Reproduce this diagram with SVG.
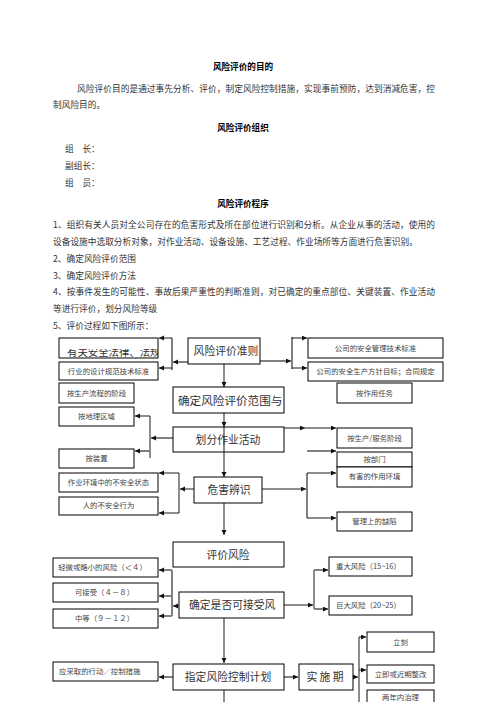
<svg xmlns="http://www.w3.org/2000/svg" width="496" height="702" viewBox="0 0 496 702">
<defs>
<style>
text{font-family:"Noto Sans CJK SC","Liberation Sans",sans-serif;}
.h{font-size:8.6px;font-weight:bold;fill:#000;text-anchor:middle;}
.p{font-size:8.7px;fill:#333;}
.b{fill:#fff;stroke:#000;stroke-width:1;}
.L{font-size:10.8px;fill:#333;text-anchor:middle;}
.s{font-size:7.4px;fill:#444;text-anchor:middle;}
.sl{font-size:7.4px;fill:#444;text-anchor:start;}
.k{stroke:#000;stroke-width:0.9;fill:none;}
.g{stroke:#808080;stroke-width:2;fill:none;}
.ka{stroke:#000;stroke-width:0.9;fill:none;marker-end:url(#ah);}
.ga{stroke:#808080;stroke-width:2;fill:none;marker-end:url(#ah);}
</style>
<marker id="ah" markerUnits="userSpaceOnUse" markerWidth="6" markerHeight="6" refX="5" refY="2.5" orient="auto"><path d="M0,0 L5,2.5 L0,5 z" fill="#111"/></marker>
<clipPath id="c1"><rect x="59" y="349" width="99" height="9"/></clipPath>
</defs>
<rect width="496" height="702" fill="#fff"/>

<g id="doc-text">
<text class="h" x="243" y="70">风险评价的目的</text>
<text class="p" x="77" y="92" textLength="358" lengthAdjust="spacing">风险评价目的是通过事先分析、评价，制定风险控制措施，实现事前预防，达到消减危害，控</text>
<text class="p" x="53" y="108">制风险目的。</text>
<text class="h" x="243" y="131">风险评价组织</text>
<text class="p" x="65" y="152">组　长：</text>
<text class="p" x="65" y="169">副组长：</text>
<text class="p" x="65" y="186">组　员：</text>
<text class="h" x="243" y="207">风险评价程序</text>
<text class="p" x="53" y="228" textLength="382" lengthAdjust="spacing">1、组织有关人员对全公司存在的危害形式及所在部位进行识别和分析。从企业从事的活动，使用的</text>
<text class="p" x="53" y="245">设备设施中选取分析对象，对作业活动、设备设施、工艺过程、作业场所等方面进行危害识别。</text>
<text class="p" x="53" y="262">2、确定风险评价范围</text>
<text class="p" x="53" y="279">3、确定风险评价方法</text>
<text class="p" x="53" y="295" textLength="382" lengthAdjust="spacing">4、按事件发生的可能性、事故后果严重性的判断准则，对已确定的重点部位、关键装置、作业活动</text>
<text class="p" x="53" y="312">等进行评价，划分风险等级</text>
<text class="p" x="53" y="329">5、评价过程如下图所示：</text>
</g>

<g id="connectors">
<line class="ga" x1="188" y1="362" x2="173" y2="362"/>
<line class="g" x1="172" y1="338" x2="172" y2="370"/>
<line class="ka" x1="172" y1="338" x2="159" y2="338"/>
<line class="ka" x1="172" y1="368" x2="159" y2="368"/>
<line class="ga" x1="260" y1="361" x2="291" y2="361"/>
<line class="g" x1="292" y1="337" x2="292" y2="369"/>
<line class="ka" x1="292" y1="338" x2="307" y2="338"/>
<line class="ka" x1="292" y1="368" x2="307" y2="368"/>
<line class="ka" x1="224" y1="364" x2="224" y2="387"/>
<line class="ka" x1="224" y1="413" x2="224" y2="427"/>
<line class="ka" x1="224" y1="503" x2="224" y2="535"/>
<line class="ka" x1="224" y1="618" x2="224" y2="663"/>
<line class="k" x1="224" y1="690" x2="224" y2="702"/>
<line class="ga" x1="173" y1="438" x2="151" y2="438"/>
<line class="k" x1="150" y1="416" x2="150" y2="458"/>
<line class="ka" x1="150" y1="416" x2="135" y2="416"/>
<line class="ga" x1="150" y1="451" x2="135" y2="451"/>
<line class="ka" x1="194" y1="489" x2="180" y2="489"/>
<line class="k" x1="179" y1="473" x2="179" y2="513"/>
<line class="ka" x1="179" y1="473" x2="159" y2="473"/>
<line class="ka" x1="179" y1="513" x2="159" y2="513"/>
<line class="ka" x1="284" y1="428" x2="305" y2="428"/>
<line class="ka" x1="305" y1="428" x2="336" y2="428"/>
<line class="ga" x1="307" y1="451" x2="336" y2="451"/>
<line class="ka" x1="262" y1="489" x2="306" y2="489"/>
<line class="g" x1="307" y1="473" x2="307" y2="518"/>
<line class="ka" x1="307" y1="473" x2="336" y2="473"/>
<line class="ka" x1="307" y1="518" x2="336" y2="518"/>
<line class="ka" x1="179" y1="606" x2="173" y2="606"/>
<line class="g" x1="172" y1="570" x2="172" y2="616"/>
<line class="ga" x1="172" y1="570" x2="159" y2="570"/>
<line class="ga" x1="172" y1="596" x2="159" y2="596"/>
<line class="ga" x1="172" y1="616" x2="159" y2="616"/>
<line class="ka" x1="284" y1="605" x2="313" y2="605"/>
<line class="k" x1="314" y1="570" x2="314" y2="609"/>
<line class="ga" x1="314" y1="570" x2="328" y2="570"/>
<line class="ga" x1="314" y1="609" x2="328" y2="609"/>
<line class="ga" x1="173" y1="677" x2="159" y2="677"/>
<line class="ga" x1="284" y1="677" x2="298" y2="677"/>
<line class="ka" x1="353" y1="677" x2="358" y2="677"/>
<line class="k" x1="359" y1="637" x2="359" y2="702"/>
<line class="ka" x1="359" y1="637" x2="366" y2="637"/>
<line class="ka" x1="359" y1="670" x2="366" y2="670"/>
</g>

<g id="n-criteria"><rect class="b" x="188" y="338" width="72" height="26"/><text class="L" x="226" y="355">风险评价准则</text></g>
<g id="n-law"><rect class="b" x="59" y="338" width="99" height="20"/><text x="67" y="356" font-size="10.4" fill="#333" clip-path="url(#c1)">有关安全法律、法规</text></g>
<g id="n-industry"><rect class="b" x="59" y="362" width="99" height="18"/><text class="s" x="108.5" y="374">行业的设计规范技术标准</text></g>
<g id="n-company-std"><rect class="b" x="308" y="338" width="135" height="20"/><text class="s" x="375.5" y="351">公司的安全管理技术标准</text></g>
<g id="n-company-goal"><rect class="b" x="308" y="362" width="135" height="19"/><text class="s" x="375.5" y="374">公司的安全生产方针目标；合同规定</text></g>
<g id="n-scope"><rect class="b" x="173" y="387" width="111" height="26"/><text x="178" y="405" font-size="11.6" fill="#333">确定风险评价范围与</text></g>
<g id="n-flow"><rect class="b" x="59" y="383" width="75" height="20"/><text class="s" x="96.5" y="396">按生产流程的阶段</text></g>
<g id="n-task"><rect class="b" x="337" y="383" width="75" height="20"/><text class="s" x="374.5" y="396">按作用任务</text></g>
<g id="n-geo"><rect class="b" x="59" y="407" width="75" height="19"/><text class="s" x="96.5" y="419">按地理区域</text></g>
<g id="n-activity"><rect class="b" x="173" y="427" width="111" height="25"/><line class="ka" x1="224" y1="427" x2="224" y2="477"/><text class="L" x="228" y="444">划分作业活动</text></g>
<g id="n-prodstage"><rect class="b" x="337" y="428" width="75" height="20"/><text class="s" x="374.5" y="441">按生产/服务阶段</text></g>
<g id="n-device"><rect class="b" x="59" y="449" width="75" height="19"/><text class="s" x="96.5" y="461">按装置</text></g>
<g id="n-dept"><rect class="b" x="337" y="452" width="75" height="15"/><text class="s" x="374.5" y="462">按部门</text></g>
<g id="n-harmenv"><rect class="b" x="337" y="467" width="75" height="20"/><text class="s" x="374.5" y="479">有害的作用环境</text></g>
<g id="n-hazard"><rect class="b" x="194" y="477" width="68" height="26"/><text class="L" x="229" y="494" font-size="11.2">危害辨识</text></g>
<g id="n-unsafe-state"><rect class="b" x="59" y="473" width="99" height="19"/><text class="s" x="108.5" y="485">作业环境中的不安全状态</text></g>
<g id="n-unsafe-act"><rect class="b" x="59" y="497" width="99" height="18"/><text class="s" x="108.5" y="508">人的不安全行为</text></g>
<g id="n-mgmt"><rect class="b" x="337" y="512" width="75" height="19"/><text class="s" x="374.5" y="524">管理上的缺陷</text></g>
<g id="n-evaluate"><rect class="b" x="173" y="542" width="111" height="25"/><text class="L" x="228" y="559">评价风险</text></g>
<g id="n-minor"><rect class="b" x="53" y="558" width="105" height="19"/><text class="s" x="102.5" y="570">轻微或略小的风险（＜４）</text></g>
<g id="n-acceptable"><rect class="b" x="53" y="583" width="105" height="19"/><text class="s" x="104.5" y="595">可接受（４－８）</text></g>
<g id="n-medium"><rect class="b" x="53" y="609" width="105" height="19"/><text class="s" x="104.5" y="621">中等（９－１２）</text></g>
<g id="n-accept"><rect class="b" x="179" y="592" width="105" height="26"/><text x="189" y="609" font-size="10.8" fill="#333">确定是否可接受风</text></g>
<g id="n-major"><rect class="b" x="329" y="557" width="83" height="19"/><text class="sl" x="336" y="569">重大风险（15~16）</text></g>
<g id="n-huge"><rect class="b" x="329" y="596" width="83" height="19"/><text class="sl" x="336" y="608">巨大风险（20~25）</text></g>
<g id="n-plan"><rect class="b" x="173" y="664" width="111" height="26"/><text class="L" x="228" y="681">指定风险控制计划</text></g>
<g id="n-action"><rect class="b" x="53" y="662" width="105" height="19"/><text class="sl" x="59" y="674">应采取的行动／控制措施</text></g>
<g id="n-implement"><rect class="b" x="299" y="664" width="54" height="26"/><text class="L" x="325" y="681" font-size="11">实 施 期</text></g>
<g id="n-now"><rect class="b" x="367" y="632" width="67" height="20"/><text class="s" x="400.5" y="645">立刻</text></g>
<g id="n-soon"><rect class="b" x="367" y="665" width="67" height="18"/><text class="s" x="400.5" y="677">立即或近期整改</text></g>
<g id="n-twoyear"><rect class="b" x="367" y="690" width="67" height="20"/><text class="s" x="400.5" y="700">两年内治理</text></g>
</svg>
